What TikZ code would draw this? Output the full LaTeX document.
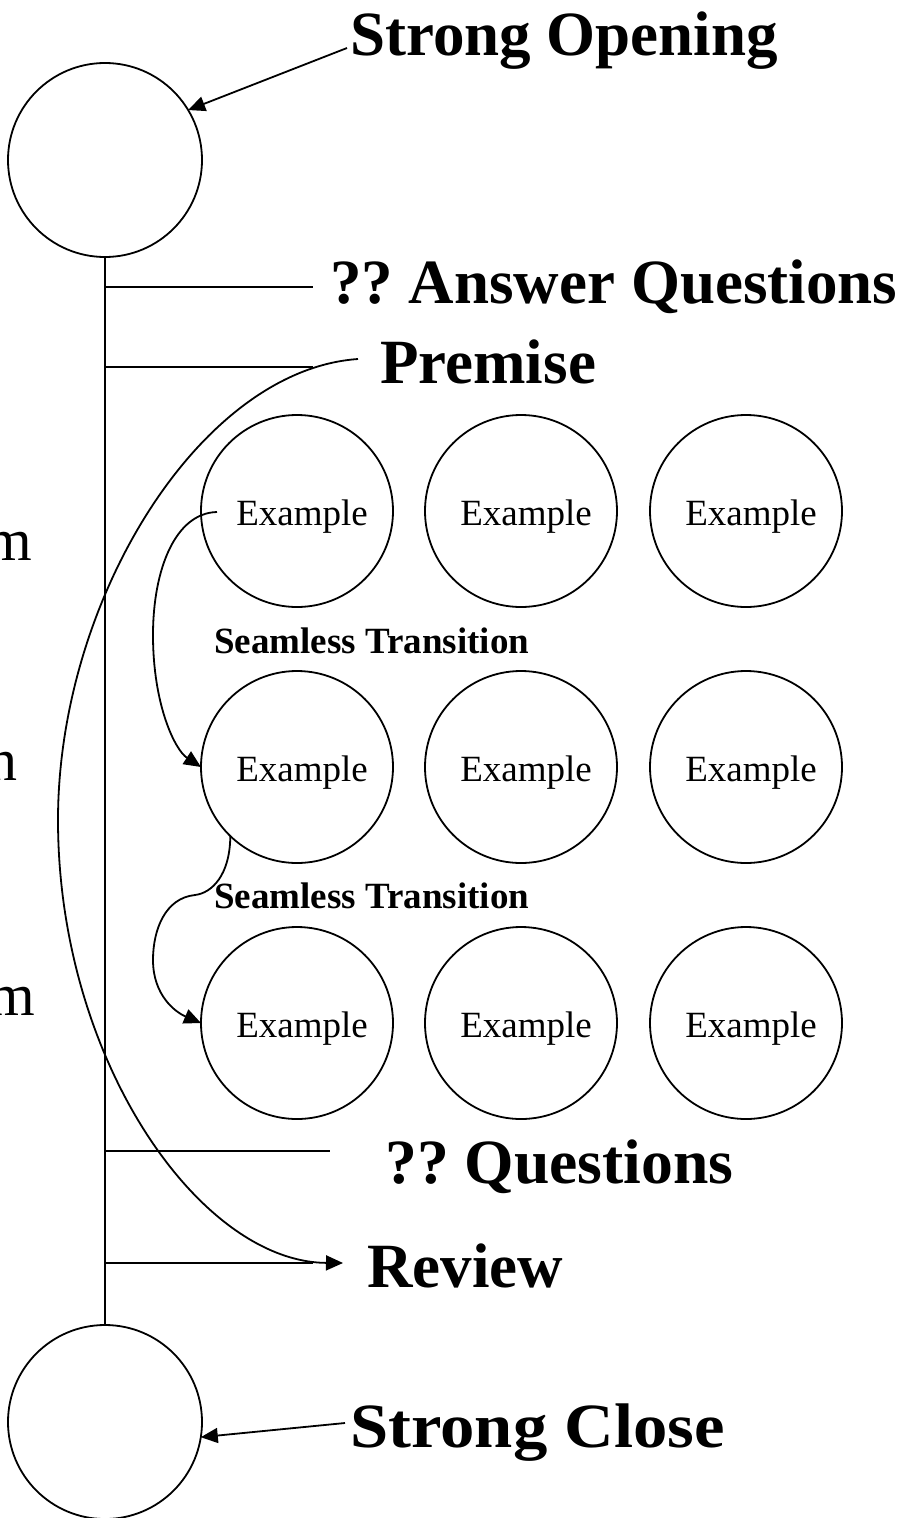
\documentclass[tikz,border=0pt]{standalone}
\usepackage{fontspec}
\setmainfont{Liberation Serif}
\usetikzlibrary{arrows.meta,calc}
\frenchspacing
\begin{document}
\begin{tikzpicture}[x=1pt,y=-1pt,
  ln/.style={line width=1.8pt},
  arr/.style={line width=1.8pt,-{Triangle[length=17pt,width=15pt]}},
  bigc/.style={circle,draw,line width=1.8pt,minimum size=194pt,inner sep=0pt,outer sep=0pt},
  exc/.style={circle,draw,line width=1.8pt,minimum size=192pt,inner sep=0pt,outer sep=0pt},
  big/.style={font=\fontsize{63}{70}\selectfont\bfseries,inner sep=0pt,anchor=base west},
  side/.style={font=\fontsize{60}{66}\selectfont,inner sep=0pt,anchor=base east},
  ext/.style={font=\fontsize{37}{42}\selectfont,inner sep=0pt,anchor=base},
  st/.style={font=\fontsize{37}{42}\selectfont\bfseries,inner sep=0pt,anchor=base west}]
\useasboundingbox[fill=white] (0,0) rectangle (923,1518);
% main circles
\node[bigc] (top) at (105,160) {};
\node[bigc] (bot) at (105,1422) {};
% labels
\node[big] (so) at (350,55) {Strong Opening};
\node[big] (aq) at (330,303) {?? Answer Questions};
\node[big] (pr) at (380,383) {Premise};
\node[big] (qu) at (385,1183) {\scalebox{1.01}[1]{?? Questions}};
\node[big] (rv) at (367,1287) {Review};
\node[big] (sc) at (350,1447) {\scalebox{1.09}[1]{Strong Close}};
% clipped side texts
\node[side] (s1) at (32,560) {m};
\node[side] (s2) at (18,780) {n};
\node[side] (s3) at (35,1015) {m};
% example circles
\foreach \c/\x in {1/297,2/521,3/746}{
  \foreach \r/\y in {1/511,2/767,3/1023}{
    \node[exc] (e\r\c) at (\x,\y) {};
    \node[ext] (x\r\c) at (\x+5,\y+14) {Example};
  }
}
\node[st] (t1) at (214,653) {Seamless Transition};
\node[st] (t2) at (214,908) {Seamless Transition};
% spine
\draw[ln] (top.south) -- (bot.north);
\coordinate (v1) at (105,287); \coordinate (h1) at (313,287);
\coordinate (v2) at (105,367); \coordinate (h2) at (313,367);
\coordinate (v3) at (105,1151); \coordinate (h3) at (330,1151);
\coordinate (v4) at (105,1263); \coordinate (h4) at (313,1263);
\draw[ln] (v1) -- (h1);
\draw[ln] (v2) -- (h2);
\draw[ln] (v3) -- (h3);
\draw[ln] (v4) -- (h4);
% arrows to circles
\coordinate (soA) at (347,48);
\draw[arr] (soA) -- (top.31);
\coordinate (scA) at (345,1423);
\draw[arr] (scA) -- (bot.-9);
% premise -> review arc
\coordinate (pA) at (358,359);
\coordinate (pL) at (58,820);
\coordinate (pB) at (343,1263);
\draw[arr] (pA) .. controls (200,370) and (58,600) .. (pL)
  .. controls (58,1060) and (200,1262) .. (pB);
% seamless transitions
\draw[arr] ($(e11.west)+(16,1)$) .. controls (175,513) and (153,570) .. (153,635)
  .. controls (153,705) and (175,750) .. (e21.west);
\draw[arr] (e21.-134) .. controls (230,875) and (212,893) .. (195,895)
  .. controls (165,898) and (153,930) .. (153,960)
  .. controls (153,995) and (175,1012) .. (e31.west);
\end{tikzpicture}
\end{document}
